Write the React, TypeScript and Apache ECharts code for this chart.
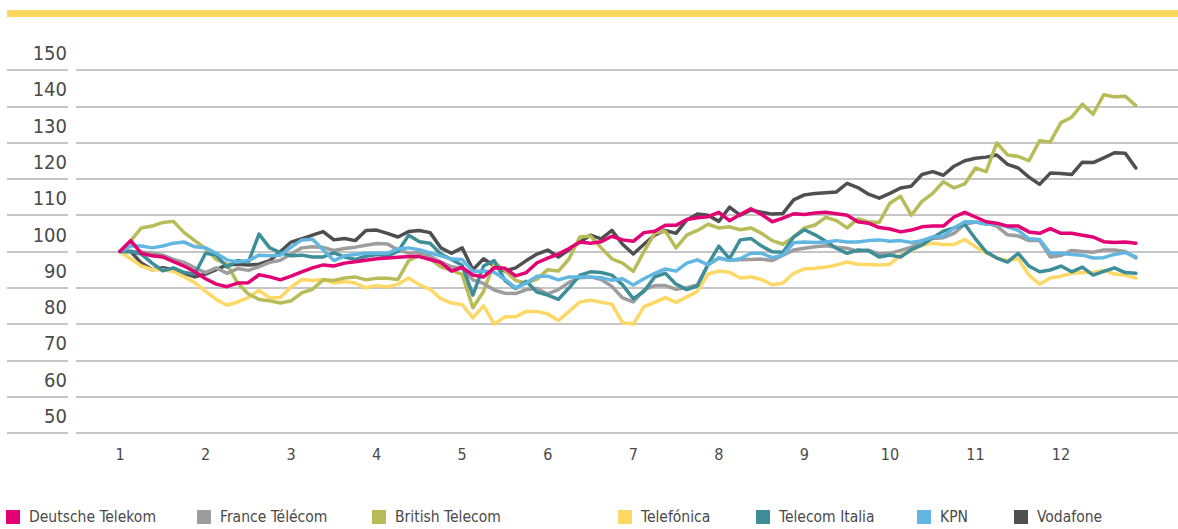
import React, { useEffect, useRef } from "react";
import * as echarts from "echarts";

const months = [1, 2, 3, 4, 5, 6, 7, 8, 9, 10, 11, 12];
const yTicks = [50, 60, 70, 80, 90, 100, 110, 120, 130, 140, 150];
const stepPerMonth = 8;

const seriesNames = [
  "Deutsche Telekom",
  "France Télécom",
  "British Telecom",
  "Telefónica",
  "Telecom Italia",
  "KPN",
  "Vodafone",
];

const colors = ["#e20074", "#9d9d9d", "#b8bc58", "#fdd865", "#3e8e99", "#62b6e2", "#4f4f51"];

const deutscheTelekom = [
  100, 103, 99.5, 98.8, 98.5, 97.2, 96, 94.4, 92.5, 91, 90.3, 91.3, 91.4, 93.6, 93, 92.2,
  93.2, 94.4, 95.5, 96.3, 96, 96.8, 97.2, 97.6, 98, 98.2, 98.4, 98.6, 98.6, 97.8, 97, 94.6,
  95.6, 93.5, 93, 95.5, 95.4, 93.3, 94.2, 96.9, 98.2, 99.3, 100.8, 102.6, 102.3, 102.7, 104.2, 103.2,
  102.8, 105.2, 105.6, 107.2, 107.2, 108.8, 109.3, 109.6, 110.8, 108.5, 110.2, 111.8, 110.2, 108.2, 109.2, 110.4,
  110.2, 110.6, 110.8, 110.4, 110, 108.2, 107.8, 106.6, 106.2, 105.4, 105.9, 106.8, 107, 107, 109.5, 110.8,
  109.5, 108.2, 107.8, 107, 107, 105.4, 105, 106.3, 105, 105, 104.5, 104, 102.7, 102.5, 102.6, 102.3,
];

const franceTelecom = [
  100, 100, 99.9, 99.5, 99, 97.8, 97, 95.5, 94.2, 95.5, 94, 95.3, 94.8, 95.8, 97, 97.6,
  99.3, 101, 101.3, 101.1, 100.3, 100.8, 101.2, 101.7, 102.2, 102.1, 100.4, 99.6, 99.7, 98.7, 97.1, 95.8,
  95.4, 92.2, 91.2, 89.4, 88.5, 88.4, 89.5, 89.8, 88.3, 89.5, 91.5, 92.8, 93, 92.3, 90.4, 87.2,
  86.1, 89.4, 90.6, 90.6, 89.6, 90, 90.8, 96.5, 98.1, 97.6, 97.7, 97.8, 97.9, 97.5, 99, 100.4,
  100.9, 101.3, 101.6, 101.2, 100.9, 100, 100.4, 99.3, 99.5, 100.3, 101.2, 103, 103.6, 103.8, 105, 107.5,
  108.1, 107.8, 107, 104.6, 104.3, 103, 103, 98.5, 98.9, 100.3, 100, 99.8, 100.4, 100.4, 100, 98.2,
];

const britishTelecom = [
  100, 103, 106.5, 107, 108, 108.3, 105.2, 103, 100.8, 97.8, 96.5, 91.3, 88.3, 86.8, 86.4, 85.8,
  86.4, 88.6, 89.6, 92.2, 92, 92.7, 93, 92.2, 92.6, 92.6, 92.3, 97.5, 99, 98, 95.8, 94.8,
  93.7, 84.5, 89, 97, 94.8, 92, 91.3, 92.4, 95, 94.6, 98, 104, 104.3, 101, 98, 96.8,
  94.5, 100, 105, 105.6, 101, 104.5, 105.8, 107.5, 106.5, 106.8, 106, 106.5, 105, 103, 102, 104,
  106.5, 107.3, 109.4, 108.5, 106.5, 109, 108.2, 108, 113.3, 115.2, 110, 113.8, 116, 119.2, 117.5, 118.6,
  123, 122, 129.9, 126.6, 126.2, 125, 130.5, 130.2, 135.5, 137, 140.6, 137.8, 143.2, 142.6, 142.8, 140.2,
];

const telefonica = [
  100, 98, 96, 95, 95, 94.5, 93, 91.4, 89, 86.8, 85.2, 86.1, 87.3, 89.3, 87.2, 87.3,
  90.2, 92.3, 92, 92.3, 91.3, 91.7, 91.3, 90, 90.6, 90.2, 91, 92.7, 90.8, 89.6, 87, 85.8,
  85.4, 81.7, 85, 80, 82, 82, 83.5, 83.5, 82.8, 81, 83.5, 86.1, 86.6, 86, 85.5, 80.4,
  80, 84.8, 86, 87.3, 86, 87.5, 89, 93.8, 94.6, 94.3, 92.7, 93, 92.3, 90.8, 91.3, 94,
  95.2, 95.4, 95.7, 96.3, 97.1, 96.5, 96.4, 96.3, 96.5, 99, 100.3, 101.7, 102.3, 101.9, 101.9, 103.3,
  101.3, 99.6, 98.2, 97.5, 98, 93.5, 91, 92.7, 93.2, 94, 94.2, 94.2, 94.8, 93.8, 93.5, 92.7,
];

const telecomItalia = [
  100, 100, 99.3, 96.8, 94.7, 95.5, 94.2, 93.8, 99.5, 99, 95.7, 97.5, 97, 104.8, 101, 99.7,
  98.8, 99, 98.5, 98.5, 99.6, 98.5, 97.8, 98.7, 99.2, 98.8, 100, 104.5, 102.7, 102.3, 99.3, 97.8,
  96.2, 88, 96, 97.5, 92, 89.8, 91.8, 88.8, 88, 86.8, 90, 93.5, 94.4, 94.2, 93.5, 90.8,
  87, 89, 93, 94, 91, 89.5, 90.5, 96.5, 101.5, 98, 103.2, 103.6, 101.5, 99.9, 99.8, 104,
  106, 104.6, 102.8, 100.9, 99.5, 100.4, 100.2, 98.5, 99, 98.5, 100.5, 101.8, 103.8, 105.6, 106.5, 107.5,
  103.5, 99.9, 98.2, 97.1, 99.5, 96, 94.4, 94.9, 96, 94.4, 95.7, 93.5, 94.5, 95.5, 94.2, 94,
];

const kpn = [
  100, 101.5, 101.5, 101, 101.5, 102.3, 102.6, 101.3, 101, 99.5, 97.7, 97.1, 97.5, 99, 98.8, 99,
  101.2, 103.2, 103.4, 100.5, 97.5, 98.8, 99.2, 99.5, 99.6, 99.5, 100.7, 101, 100.5, 99.6, 98.8, 97.9,
  97.8, 94.5, 94.6, 94.3, 92.3, 90, 91.3, 93.2, 93.2, 92.2, 93, 93, 93, 92.8, 92.1, 92.5,
  90.8, 92.5, 94, 95.2, 94.6, 96.8, 97.7, 96.3, 98.3, 97.5, 98, 99.5, 99.5, 98.3, 99, 102.4,
  102.6, 102.5, 102.6, 103, 102.6, 102.6, 103, 103.2, 102.8, 103, 102.5, 103, 104, 104.2, 106.5, 108.2,
  108.1, 107.5, 107.6, 106.8, 105.8, 103.5, 103.3, 99.5, 99.5, 99.2, 99, 98.2, 98.3, 99.2, 99.7, 98.5,
];

const vodafone = [
  100, 100, 96.8, 95, 95.5, 95, 94, 93, 93.8, 95, 96.3, 96.5, 96.3, 96.5, 97.5, 100,
  102.6, 103.5, 104.5, 105.5, 103.2, 103.6, 103, 105.8, 105.9, 105, 104, 105.5, 105.8, 105.2, 101, 99.5,
  101, 95, 98, 96, 94.6, 95.5, 97.5, 99.3, 100.4, 98.5, 100.5, 102.6, 104.5, 103.5, 105.8, 102,
  99.3, 102, 104.5, 105.8, 105, 108.7, 110.3, 110, 108.3, 112.2, 110, 111.4, 110.8, 110.3, 110.5, 114.2,
  115.6, 116, 116.2, 116.4, 118.8, 117.6, 115.8, 114.7, 116, 117.5, 118, 121.2, 122, 121, 123.5, 125,
  125.7, 126, 126.6, 124, 123, 120.5, 118.5, 121.6, 121.5, 121.2, 124.6, 124.5, 125.8, 127.2, 127.1, 123,
];

const seriesValues = [deutscheTelekom, franceTelecom, britishTelecom, telefonica, telecomItalia, kpn, vodafone];

// draw order: later on top
const drawOrder = [6, 3, 2, 1, 4, 5, 0];

const legendLeft = [6, 197, 372, 618, 756, 917, 1014];

const FONT = "'DejaVu Sans Condensed', 'Liberation Sans Narrow', sans-serif";

export default function App() {
  const ref = useRef<HTMLDivElement>(null);

  useEffect(() => {
    if (!ref.current) return;
    const chart = echarts.init(ref.current, undefined, { renderer: "svg" });

    const pxPerUnit = 85.545;
    const gridLeft = 7;
    const gridWidth = 1171;
    const xMin = 1 - (120 - gridLeft) / pxPerUnit;
    const xMax = xMin + gridWidth / pxPerUnit;

    const series = drawOrder.map((k) => ({
      name: seriesNames[k],
      type: "line",
      data: seriesValues[k].map((v, i) => [1 + i / stepPerMonth, v]),
      showSymbol: false,
      symbol: "none",
      lineStyle: { width: 3.5, color: colors[k], join: "round", cap: "round" },
      itemStyle: { color: colors[k] },
      z: 3,
    }));

    const legends = seriesNames.map((name, k) => ({
      data: [{ name, icon: "rect" }],
      left: legendLeft[k],
      top: 508,
      padding: 0,
      itemWidth: 14,
      itemHeight: 14,
      itemGap: 0,
      selectedMode: false,
      textStyle: {
        fontFamily: FONT,
        fontSize: 15.5,
        color: "#4a4a4a",
        lineHeight: 18,
        padding: [0, 0, 0, 4],
      },
    }));

    chart.setOption({
      animation: false,
      backgroundColor: "#ffffff",
      color: colors,
      grid: { left: gridLeft, right: 0, top: 70, bottom: 96, containLabel: false },
      xAxis: {
        type: "value",
        min: xMin,
        max: xMax,
        axisLine: { show: false },
        axisTick: { show: false },
        splitLine: { show: false },
        axisLabel: {
          customValues: months,
          formatter: (v: number) => String(Math.round(v)),
          fontFamily: FONT,
          fontSize: 16,
          color: "#4a4a4a",
          margin: 13,
        },
      },
      yAxis: {
        type: "value",
        min: yTicks[0],
        max: yTicks[yTicks.length - 1],
        interval: 10,
        axisLine: { show: false },
        axisTick: { show: false },
        splitLine: { show: true, lineStyle: { color: "#c6c6c6", width: 2 } },
        axisLabel: {
          inside: true,
          margin: 60,
          align: "right",
          verticalAlign: "bottom",
          padding: [0, 0, 7, 0],
          fontFamily: FONT,
          fontSize: 20,
          color: "#4a4a4a",
          showMinLabel: true,
          showMaxLabel: true,
        },
      },
      legend: legends,
      graphic: [
        {
          type: "rect",
          shape: { x: 7, y: 10, width: 1171, height: 7 },
          style: { fill: "#fdd660" },
          z: 10,
        },
        {
          type: "rect",
          shape: { x: 68, y: 60, width: 8, height: 380 },
          style: { fill: "#ffffff" },
          z: 1,
        },
      ],
      series,
    });

    return () => chart.dispose();
  }, []);

  return <div ref={ref} style={{ width: 1178, height: 529, position: "absolute", left: 0, top: 0 }} />;
}
